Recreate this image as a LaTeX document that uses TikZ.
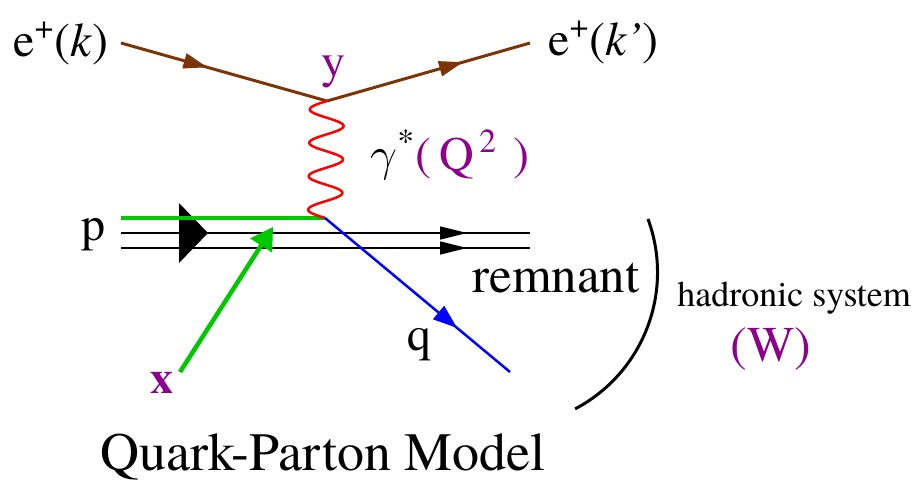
\documentclass[tikz,border=0pt]{standalone}
\usepackage{fix-cm}
\usepackage{fontspec}
\newfontfamily\tnr{TeX Gyre Termes}
\usetikzlibrary{arrows.meta,decorations.markings,calc}
\definecolor{ebrown}{RGB}{125,52,5}
\definecolor{lpurple}{RGB}{140,0,140}
\definecolor{qgreen}{RGB}{0,200,0}
\begin{document}
\begin{tikzpicture}[x=0.5pt,y=-0.5pt,
  lbl/.style={inner sep=0pt, font=\tnr\fontsize{24}{25}\selectfont},
  plbl/.style={lbl, text=lpurple},
  eline/.style={draw=ebrown, line width=1.5pt},
  photon/.style={draw=red, line width=1.25pt},
  gline/.style={draw=qgreen, line width=2.25pt},
  pline/.style={draw=black, line width=0.65pt},
  qline/.style={draw=blue, line width=1.25pt},
  arcline/.style={draw=black, line width=1.5pt},
  arrowat/.style n args={3}{postaction={decorate},
    decoration={markings, mark=at position #1 with {\arrow{Triangle[length=#2pt, width=#3pt]}}}},
]
\useasboundingbox (0,0) rectangle (919,482);
% coordinates
\coordinate (ein) at (121,43);
\coordinate (v1) at (327,101);
\coordinate (eout) at (530,43);
\coordinate (v2) at (325,218);
\coordinate (pstart) at (121,218);
\coordinate (l1s) at (121,233);
\coordinate (l1e) at (530,233);
\coordinate (l2s) at (121,248);
\coordinate (l2e) at (530,248);
\coordinate (xs) at (180,372);
\coordinate (xt) at (273,227);
\coordinate (qe) at (510,372);
\coordinate (arctop) at (648,219);
% labels
\node[lbl, anchor=base west] (ek) at (13,56) {e\textsuperscript{+}(\textit{k})};
\node[lbl, anchor=base west] (ekp) at (548,55) {e\textsuperscript{+}(\textit{k’})};
\node[plbl, anchor=base] (y) at (333,77) {y};
\node[lbl, anchor=base west] (gam) at (370,170) {$\gamma$\textsuperscript{*}\textcolor{lpurple}{(\,Q\textsuperscript{\,2}\,\,)}};
\node[lbl, anchor=base west] (p) at (81,240) {p};
\node[plbl, anchor=base, font=\tnr\fontsize{23}{24}\selectfont\bfseries] (x) at (162,393) {x};
\node[lbl, anchor=base west] (q) at (407,350) {q};
\node[lbl, anchor=base west, font=\tnr\fontsize{25.5}{26}\selectfont] (rem) at (472,292) {remnant};
\node[lbl, anchor=base west, font=\tnr\fontsize{18}{19}\selectfont] (had) at (677,306) {hadronic system};
\node[plbl, anchor=base west, font=\tnr\fontsize{25}{26}\selectfont] (w) at (730,361) {(W)};
\node[lbl, anchor=base west, font=\tnr\fontsize{27}{28}\selectfont] (title) at (100,470) {Quark-Parton Model};
% proton lines
\draw[pline, arrowat={0.846}{13.5}{6.5}] (l1s) -- (l1e);
\draw[pline, arrowat={0.846}{13.5}{6.5}] (l2s) -- (l2e);
\fill[black] (179,203) -- (208,233) -- (179,263) -- cycle;
% struck quark (green)
\draw[gline] (pstart) -- (v2);
% electron
\draw[eline, arrowat={0.42}{12}{7.5}] (ein) -- (v1);
\draw[eline, arrowat={0.67}{12}{7.5}] (v1) -- (eout);
% photon
\draw[photon] let \p1=(v1), \p2=(v2) in
  plot[variable=\t, domain=0:1, samples=200, smooth]
  ({\x1+(\x2-\x1)*\t-8.5*sin(1260*\t)}, {\y1+(\y2-\y1)*\t});
% outgoing quark
\draw[qline, arrowat={0.714}{12}{8.5}] (v2) -- (qe);
% incoming parton
\draw[gline, -{Triangle[length=11pt,width=12.5pt]}] (xs) -- (xt);
% hadronic system arc
\draw[arcline] (arctop) arc[start angle=20.2, end angle=-62.2, radius=77.2pt];
\end{tikzpicture}
\end{document}
